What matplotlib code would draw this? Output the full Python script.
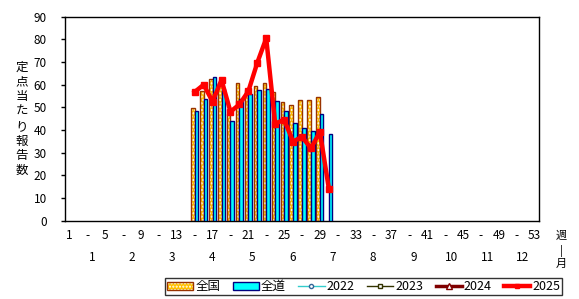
import numpy as np
import matplotlib
matplotlib.use("Agg")
import matplotlib.pyplot as plt
from matplotlib.patches import Patch
from matplotlib.lines import Line2D
from matplotlib.legend_handler import HandlerTuple
import matplotlib.transforms as mtransforms

plt.rcParams['font.family'] = ['Noto Sans CJK JP', 'DejaVu Sans']
plt.rcParams['hatch.color'] = 'white'
plt.rcParams['hatch.linewidth'] = 1.0

# ---- data ----
weeks = list(range(15, 31))
national = [49.6, 57.3, 62.5, 60.5, 47.0, 60.7, 57.7, 59.3, 60.7, 56.7, 52.3, 51.0, 53.2, 53.2, 54.5, np.nan]
hokkaido = [48.3, 53.7, 63.4, 58.0, 43.8, 53.8, 55.9, 57.7, 58.1, 52.8, 48.4, 42.9, 40.7, 39.5, 47.0, 38.0]
y2022 = []
y2023 = []
y2024 = []
y2025 = [56.7, 59.9, 52.5, 62.0, 48.0, 51.2, 57.0, 69.6, 80.4, 42.7, 44.5, 34.8, 37.0, 31.8, 39.2, 14.1]

week_ticks = list(range(1, 54, 2))
week_labels = [str(w) if i % 2 == 0 else '-' for i, w in enumerate(week_ticks)]
months = [str(m) for m in range(1, 13)]
month_pos = [3.5, 8.0, 12.4, 16.9, 21.4, 25.9, 30.4, 34.9, 39.5, 43.7, 47.8, 51.7]

ORANGE = '#FFC000'
BROWN = '#993300'
CYAN = '#00FFFF'
NAVY = '#000080'

fig = plt.figure(figsize=(5.79, 2.99), dpi=100)
ax = fig.add_axes([65/579, 1-220.5/299, (539-65)/579, (220.5-16.5)/299])

bw = 0.40
xw = np.array(weeks, dtype=float)
nat = np.array(national, dtype=float)
hok = np.array(hokkaido, dtype=float)
# national bars: hatched fill, then edge
ax.bar(xw - bw/2, nat, width=bw, color=ORANGE, edgecolor=None, hatch='.....', linewidth=0, zorder=2)
ax.bar(xw - bw/2, nat, width=bw, fill=False, edgecolor=BROWN, linewidth=1.0, zorder=3)
ax.bar(xw + bw/2, hok, width=bw, color=CYAN, edgecolor=NAVY, linewidth=1.0, zorder=3)

ax.plot(weeks[:len(y2022)], y2022, color='#33CCCC', lw=1, marker='o', ms=3, mfc='white', mec='#336699', zorder=4)
ax.plot(weeks[:len(y2023)], y2023, color='#333300', lw=1, marker='s', ms=3, mfc='white', mec='#333300', zorder=4)
ax.plot(weeks[:len(y2024)], y2024, color='#800000', lw=2.5, marker='^', ms=4, mfc='white', mec='#800000', zorder=4)
ax.plot(weeks, y2025, color='#FF0000', lw=3.2, marker='s', ms=4.5, mfc='#FF0000', mec='#FF0000', zorder=5)

ax.set_xlim(0.5, 53.5)
ax.set_ylim(0, 90)
ax.set_yticks(range(0, 91, 10))
ax.tick_params(axis='y', length=3, width=1, pad=10, labelsize=8.5, direction='out')
ax.set_xticks(week_ticks)
ax.set_xticklabels(week_labels)
ax.tick_params(axis='x', length=0, pad=6, labelsize=8.5)
for s in ax.spines.values():
    s.set_color('black')
    s.set_linewidth(1.0)

trans = mtransforms.blended_transform_factory(ax.transData, ax.transAxes)
for m, p in zip(months, month_pos):
    ax.text(p, -0.179, m, transform=trans, ha='center', va='center', fontsize=8.5)

fig.text(561/579, 1-236/299, '週', ha='center', va='center', fontsize=8)
fig.text(561/579, 1-251/299, '|', ha='center', va='center', fontsize=8)
fig.text(561/579, 1-264/299, '月', ha='center', va='center', fontsize=8)

fig.text(22/579, 1-119/299, "\n".join("定点当たり報告数"), ha='center', va='center', fontsize=9, linespacing=1.18)

h_nat = (Patch(facecolor=ORANGE, edgecolor=None, hatch='.....', linewidth=0),
         Patch(fill=False, edgecolor=BROWN, linewidth=1.0))
h_hok = Patch(facecolor=CYAN, edgecolor=NAVY, linewidth=1.0)
h22 = Line2D([], [], color='#33CCCC', lw=1, marker='o', ms=3, mfc='white', mec='#336699')
h23 = Line2D([], [], color='#333300', lw=1, marker='s', ms=3, mfc='white', mec='#333300')
h24 = Line2D([], [], color='#800000', lw=2.5, marker='^', ms=4, mfc='white', mec='#800000')
h25 = Line2D([], [], color='#FF0000', lw=3.2, marker='s', ms=3, mfc='#FF0000', mec='#FF0000')
leg = fig.legend([h_nat, h_hok, h22, h23, h24, h25], ['全国', '全道', '2022', '2023', '2024', '2025'],
                 handler_map={tuple: HandlerTuple(ndivide=1, pad=0)},
                 loc='center', bbox_to_anchor=(363.7/579, 1-286.7/299), ncol=6,
                 fontsize=9, handlelength=2.1, handleheight=0.6, handletextpad=0.15,
                 columnspacing=1.0, borderpad=0.15, frameon=True, fancybox=False,
                 edgecolor='black', borderaxespad=0)
leg.get_frame().set_linewidth(1.0)

fig.savefig('out.png', dpi=100)
